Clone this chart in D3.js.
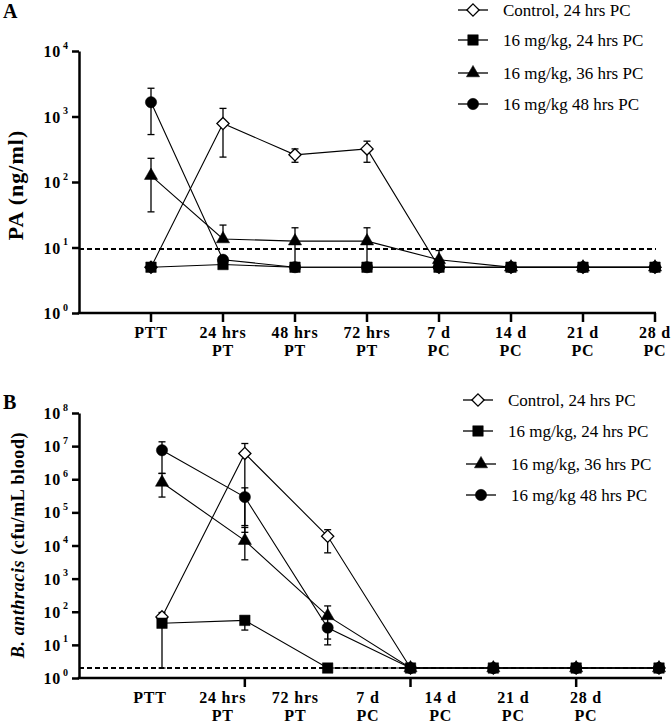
<!DOCTYPE html>
<html>
<head>
<meta charset="utf-8">
<script src="https://cdn.jsdelivr.net/npm/d3@7"></script>
</head>
<body style="margin:0;background:#fff">
<svg id="chart" width="672" height="724" style="display:block"></svg>
<script>
(function() {
  const FONT = '"Liberation Serif"';

  //// Data
  const seriesNames = [
    "Control, 24 hrs PC",
    "16 mg/kg, 24 hrs PC",
    "16 mg/kg, 36 hrs PC",
    "16 mg/kg 48 hrs PC"
  ];
  const symbols = ["diamond", "square", "triangle", "circle"];

  // Panel A: PA (ng/ml)
  const catsA = ["PTT", "24 hrs PT", "48 hrs PT", "72 hrs PT", "7 d PC", "14 d PC", "21 d PC", "28 d PC"];
  const labelsA = [["PTT"], ["24 hrs", "PT"], ["48 hrs", "PT"], ["72 hrs", "PT"], ["7 d", "PC"], ["14 d", "PC"], ["21 d", "PC"], ["28 d", "PC"]];
  const yTicksA = [1, 10, 100, 1000, 10000];
  const lodA = 9.5;

  const paControl = [5, 780, 260, 320, 5, 5, 5, 5];
  const paControlHi = [null, 1330, 320, 420, null, null, null, null];
  const paControlLo = [null, 240, 200, 200, null, null, null, null];
  const paSq24 = [5, 5.5, 5, 5, 5, 5, 5, 5];
  const paSq24Hi = [null, null, null, null, null, null, null, null];
  const paSq24Lo = [null, null, null, null, null, null, null, null];
  const paTri36 = [125, 13.5, 12.5, 12.5, 6.5, 5, 5, 5];
  const paTri36Hi = [230, 22, 20, 20, 9, null, null, null];
  const paTri36Lo = [35, null, 5, 5, null, null, null, null];
  const paCirc48 = [1650, 6.5, 5, 5, 5, 5, 5, 5];
  const paCirc48Hi = [2700, null, null, null, null, null, null, null];
  const paCirc48Lo = [530, null, null, null, null, null, null, null];

  // Panel B: B. anthracis (cfu/mL blood)
  const catsB = ["PTT", "24 hrs PT", "72 hrs PT", "7 d PC", "14 d PC", "21 d PC", "28 d PC"];
  const labelsB = [["PTT"], ["24 hrs", "PT"], ["72 hrs", "PT"], ["7 d", "PC"], ["14 d", "PC"], ["21 d", "PC"], ["28 d", "PC"]];
  const tickCatsB = ["24 hrs PT", "7 d PC", "21 d PC"];
  const yTicksB = [1, 10, 100, 1e3, 1e4, 1e5, 1e6, 1e7, 1e8];
  const lodB = 2;

  const baControl = [70, 6e6, 1.9e4, 2, 2, 2, 2];
  const baControlHi = [95, 1.2e7, 3e4, null, null, null, null];
  const baControlLo = [null, 2.5e4, 6e3, null, null, null, null];
  const baSq24 = [45, 55, 2, 2, 2, 2, 2];
  const baSq24Hi = [null, null, null, null, null, null, null];
  const baSq24Lo = [2, 28, null, null, null, null, null];
  const baTri36 = [8e5, 1.4e4, 75, 2, 2, 2, 2];
  const baTri36Hi = [1.5e6, 3.5e4, 150, null, null, null, null];
  const baTri36Lo = [2.9e5, 3.7e3, 15, null, null, null, null];
  const baCirc48 = [7.5e6, 2.9e5, 33, 2, 2, 2, 2];
  const baCirc48Hi = [1.35e7, 5.5e5, null, null, null, null, null];
  const baCirc48Lo = [1.5e6, 4e4, 10, null, null, null, null];

  const svg = d3.select("#chart").attr("font-family", FONT);

  //// Panel A
  drawPanel({
    letter: "A",
    letterY: 18,
    cats: catsA,
    labels: labelsA,
    tickCats: catsA,
    labelRange: [151, 655],
    pointRange: [151, 655],
    axisX: [79, 656],
    yRange: [313, 51],
    yDomain: [1, 1e4],
    yTicks: yTicksA,
    lod: lodA,
    series: [
      [paControl, paControlHi, paControlLo],
      [paSq24, paSq24Hi, paSq24Lo],
      [paTri36, paTri36Hi, paTri36Lo],
      [paCirc48, paCirc48Hi, paCirc48Lo]
    ],
    title: [{ text: "PA (ng/ml)", italic: false }],
    titleX: 23,
    titleY: 185,
    titleSize: 22,
    titleSpacing: 1,
    legend: { x: 473, y: [10, 40, 73, 104], dx: [0, 0, 0, 0] }
  });

  //// Panel B
  drawPanel({
    letter: "B",
    letterY: 409,
    cats: catsB,
    labels: labelsB,
    tickCats: tickCatsB,
    labelRange: [150, 586],
    pointRange: [162, 659],
    axisX: [79, 662],
    yRange: [678, 413],
    yDomain: [1, 1e8],
    yTicks: yTicksB,
    lod: lodB,
    series: [
      [baControl, baControlHi, baControlLo],
      [baSq24, baSq24Hi, baSq24Lo],
      [baTri36, baTri36Hi, baTri36Lo],
      [baCirc48, baCirc48Hi, baCirc48Lo]
    ],
    title: [
      { text: "B. anthracis", italic: true },
      { text: " (cfu/mL blood)", italic: false }
    ],
    titleX: 24,
    titleY: 545,
    titleSize: 18,
    titleSpacing: 0.6,
    legend: { x: 478, y: [400, 431, 464, 495], dx: [0, 0, 3, 3] }
  });

  function drawPanel(p) {
    const x = d3.scalePoint().domain(p.cats).range(p.pointRange);
    const xLab = d3.scalePoint().domain(p.cats).range(p.labelRange);
    const y = d3.scaleLog().domain(p.yDomain).range(p.yRange);
    const g = svg.append("g");

    // Panel letter
    g.append("text")
      .attr("font-family", FONT)
      .attr("x", 3)
      .attr("y", p.letterY)
      .attr("font-size", 20)
      .attr("font-weight", "bold")
      .text(p.letter);

    // Y axis title
    const title = g.append("text")
      .attr("font-family", FONT)
      .attr("transform", `translate(${p.titleX},${p.titleY}) rotate(-90)`)
      .attr("text-anchor", "middle")
      .attr("font-size", p.titleSize)
      .attr("font-weight", "bold")
      .attr("letter-spacing", p.titleSpacing);
    p.title.forEach(t =>
      title.append("tspan")
        .attr("font-style", t.italic ? "italic" : "normal")
        .text(t.text)
    );

    // Y axis
    const yAxis = g.append("g").attr("transform", `translate(${p.axisX[0]},0)`)
      .call(d3.axisLeft(y).tickValues(p.yTicks).tickSize(7).tickSizeOuter(0).tickFormat(""))
      .attr("font-family", FONT);
    yAxis.select(".domain").attr("stroke-width", 2.5);
    yAxis.selectAll(".tick line").attr("stroke-width", 2.5);
    yAxis.selectAll(".tick").append("text")
      .attr("font-family", FONT)
      .attr("font-size", 16)
      .attr("font-weight", "bold")
      .attr("fill", "#000")
      .attr("x", -18)
      .attr("dy", "0.35em")
      .attr("text-anchor", "end")
      .attr("letter-spacing", 0.8)
      .text("10");
    yAxis.selectAll(".tick").append("text")
      .attr("font-family", FONT)
      .attr("fill", "#000")
      .attr("x", -16)
      .attr("y", -3)
      .attr("font-size", 10)
      .attr("font-weight", "bold")
      .attr("text-anchor", "start")
      .text(d => Math.round(Math.log10(d)));

    // X axis line + ticks
    const y0 = p.yRange[0];
    g.append("line")
      .attr("stroke", "#000")
      .attr("stroke-width", 2.5)
      .attr("x1", p.axisX[0] - 1.25)
      .attr("x2", p.axisX[1])
      .attr("y1", y0)
      .attr("y2", y0);
    g.selectAll(".xtick")
      .data(p.tickCats)
      .join("line")
      .attr("stroke", "#000")
      .attr("stroke-width", 2.5)
      .attr("x1", d => x(d))
      .attr("x2", d => x(d))
      .attr("y1", y0)
      .attr("y2", y0 + 9);

    // X labels
    g.selectAll(".xlab")
      .data(p.cats)
      .join("text")
      .attr("font-family", FONT)
      .attr("font-size", 16)
      .attr("font-weight", "bold")
      .attr("text-anchor", "middle")
      .attr("letter-spacing", 0.8)
      .attr("transform", d => `translate(${xLab(d)},${y0 + 25})`)
      .each(function(d, i) {
        d3.select(this).selectAll("tspan")
          .data(p.labels[i])
          .join("tspan")
          .attr("x", 0)
          .attr("dy", (t, j) => (j === 0 ? 0 : 18))
          .text(t => t);
      });

    // Limit of detection
    g.append("line")
      .attr("x1", p.axisX[0])
      .attr("x2", p.axisX[1])
      .attr("y1", y(p.lod))
      .attr("y2", y(p.lod))
      .attr("stroke", "#000")
      .attr("stroke-width", 2)
      .attr("stroke-dasharray", "5,3");

    const seriesData = p.series.map(([vals, hi, lo], k) => ({
      k,
      pts: vals.map((v, i) => ({ cat: p.cats[i], v, hi: hi[i], lo: lo[i] }))
    }));

    // Lines
    const line = d3.line().x(d => x(d.cat)).y(d => y(d.v));
    g.append("g").selectAll("path")
      .data(seriesData)
      .join("path")
      .attr("fill", "none")
      .attr("stroke", "#000")
      .attr("stroke-width", 1.1)
      .attr("d", d => line(d.pts));

    // Error bars
    const errs = [];
    seriesData.forEach(s => s.pts.forEach(d => {
      if (d.hi != null) errs.push({ cat: d.cat, a: d.v, b: d.hi });
      if (d.lo != null) errs.push({ cat: d.cat, a: d.v, b: d.lo });
    }));
    const eg = g.append("g").attr("stroke", "#000").attr("stroke-width", 1.3);
    eg.selectAll(".err")
      .data(errs)
      .join("line")
      .attr("x1", d => x(d.cat))
      .attr("x2", d => x(d.cat))
      .attr("y1", d => y(d.a))
      .attr("y2", d => y(d.b));
    eg.selectAll(".cap")
      .data(errs)
      .join("line")
      .attr("x1", d => x(d.cat) - 3.5)
      .attr("x2", d => x(d.cat) + 3.5)
      .attr("y1", d => y(d.b))
      .attr("y2", d => y(d.b));

    // Markers
    seriesData.forEach(s => {
      g.append("g").selectAll("path")
        .data(s.pts)
        .join("path")
        .attr("transform", d => `translate(${x(d.cat)},${y(d.v)})`)
        .call(marker, symbols[s.k]);
    });

    // Legend
    const lg = g.append("g");
    seriesNames.forEach((name, i) => {
      const cx = p.legend.x + p.legend.dx[i];
      const cy = p.legend.y[i];
      lg.append("line")
        .attr("x1", cx - 15).attr("x2", cx + 15)
        .attr("y1", cy).attr("y2", cy)
        .attr("stroke", "#000").attr("stroke-width", 1.3);
      lg.append("path")
        .attr("transform", `translate(${cx},${cy})`)
        .call(marker, symbols[i]);
      lg.append("text")
        .attr("font-family", FONT)
        .attr("font-size", 17)
        .attr("x", cx + 30)
        .attr("y", cy)
        .attr("dy", "0.33em")
        .text(name);
    });
  }

  function marker(sel, type) {
    const shapes = {
      diamond: d3.symbol(d3.symbolDiamond2, 95),
      square: d3.symbol(d3.symbolSquare, 110),
      triangle: d3.symbol(d3.symbolTriangle, 75),
      circle: d3.symbol(d3.symbolCircle, 100)
    };
    sel.attr("d", shapes[type]())
      .attr("fill", type === "diamond" ? "#fff" : "#000")
      .attr("stroke", "#000")
      .attr("stroke-width", type === "diamond" ? 1.3 : 0.5);
  }
})();
</script>
</body>
</html>
